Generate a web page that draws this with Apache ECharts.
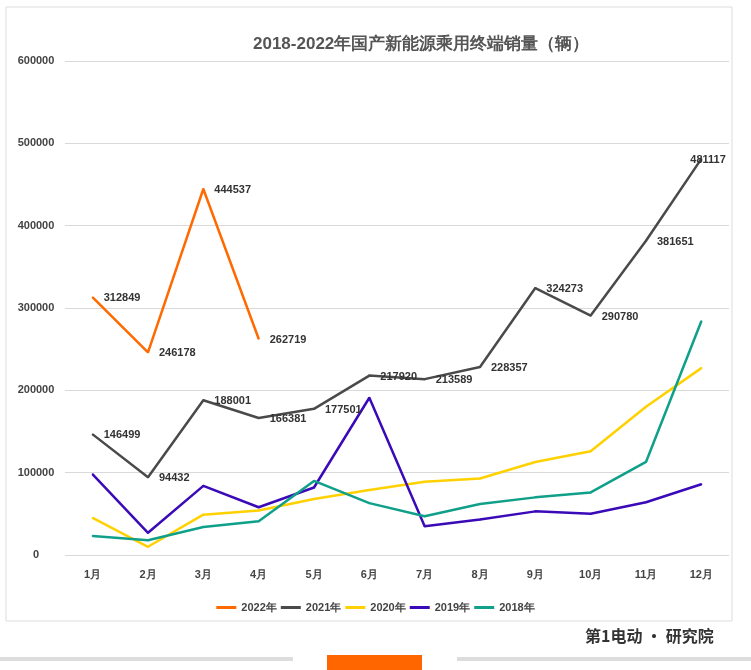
<!DOCTYPE html>
<html><head><meta charset="utf-8">
<script src="https://cdn.jsdelivr.net/npm/echarts@6/dist/echarts.min.js"></script>
<style>body{margin:0;background:#fff}#c{width:751px;height:670px}</style>
</head><body><div id="c"></div>
<script>
const months=['1月','2月','3月','4月','5月','6月','7月','8月','9月','10月','11月','12月'];
const s2022=[312849,246178,444537,262719];
const s2021=[146499,94432,188001,166381,177501,217920,213589,228357,324273,290780,381651,481117];
const s2020=[45000,10000,49000,54000,68000,79000,89000,93000,113000,126000,180000,227000];
const s2019=[98000,27000,84000,58000,82000,191000,35000,43000,53000,50000,64000,86000];
const s2018=[23000,18000,34000,41000,90000,63000,47000,62000,70000,76000,113000,284000];
const chart=echarts.init(document.getElementById('c'));
const lbl={show:true,position:'right',distance:10,offset:[0,1],color:'#333',fontWeight:'bold',fontSize:11};
function line(name,data,color,label){return {name,type:'line',data,symbol:'circle',symbolSize:2,showSymbol:true,lineStyle:{width:2.5,color},itemStyle:{color},label:label?lbl:{show:false}};}
const s21=line('2021年',s2021,'#4a4a4a',true);
s21.data=s2021.map((v,i)=>i===11?{value:v,label:{position:'insideLeft',offset:[-20,1]}}:v);
chart.setOption({
 animation:false,
 title:{text:'2018-2022年国产新能源乘用终端销量（辆）',left:248,top:31,textStyle:{fontSize:17,fontWeight:'bold',color:'#555'}},
 legend:{bottom:52,left:'center',itemWidth:20,itemHeight:3,itemGap:4,icon:'rect',textStyle:{fontSize:11,color:'#444',fontWeight:'bold'},
  data:['2022年','2021年','2020年','2019年','2018年']},
 grid:{left:65,right:22,top:61,bottom:115},
 xAxis:{type:'category',data:months,axisLine:{show:false},axisTick:{show:false},axisLabel:{color:'#444',fontSize:11,fontWeight:'bold',margin:14}},
 yAxis:{type:'value',min:0,max:600000,interval:100000,axisLabel:{color:'#444',fontSize:11,fontWeight:'bold',margin:29,align:'center',formatter:v=>String(v)},splitLine:{lineStyle:{color:'#d9d9d9'}}},
 graphic:[
  {type:'rect',shape:{x:6,y:7,width:726,height:614},style:{fill:'none',stroke:'#ddd',lineWidth:1}},
  {type:'rect',shape:{x:0,y:657,width:293,height:4},style:{fill:'#ddd'}},
  {type:'rect',shape:{x:457,y:657,width:294,height:4},style:{fill:'#ddd'}},
  {type:'rect',shape:{x:327,y:655,width:95,height:15},style:{fill:'#ff6600'}},
  {type:'text',left:585,top:628,style:{text:'第1电动 • 研究院',fill:'#333',font:'bold 16px "Noto Sans CJK SC"'}}
 ],
 series:[line('2022年',s2022,'#ff6a00',true),s21,line('2020年',s2020,'#ffd100',false),line('2019年',s2019,'#3b0ab8',false),line('2018年',s2018,'#10a08a',false)]
});
</script></body></html>
